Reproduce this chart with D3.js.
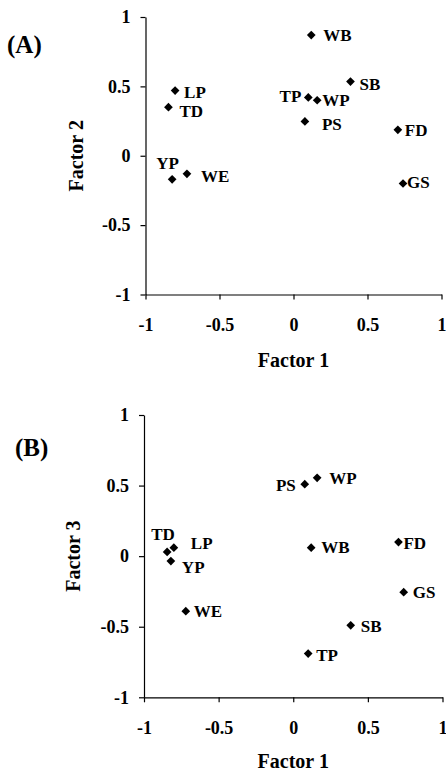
<!DOCTYPE html>
<html>
<head>
<meta charset="utf-8">
<script src="https://cdn.jsdelivr.net/npm/d3@7"></script>
<style>
  html, body { margin: 0; padding: 0; background: #fff; }
  svg text { font-family: "Liberation Serif", "Times New Roman", serif; font-weight: bold; fill: #000; }
</style>
</head>
<body>
<svg id="chart" width="446" height="773"></svg>
<script>
// site codes and factor loadings
const sites = ['LP', 'TD', 'YP', 'WE', 'WB', 'SB', 'TP', 'WP', 'PS', 'FD', 'GS'];
const factor1 = [-0.80, -0.845, -0.82, -0.72, 0.12, 0.385, 0.10, 0.16, 0.077, 0.705, 0.74];
const factor2 = [0.47, 0.35, -0.17, -0.13, 0.87, 0.535, 0.42, 0.40, 0.247, 0.187, -0.20];
const factor3 = [0.06, 0.03, -0.035, -0.39, 0.06, -0.49, -0.69, 0.555, 0.51, 0.10, -0.255];
const tickValues = [-1, -0.5, 0, 0.5, 1];
const tickLabels = ['-1', '-0.5', '0', '0.5', '1'];

// label placement next to each marker (dx, dy, anchor)
const offsetsA = {
  LP: [9, 7], TD: [11, 10], YP: [-16, -10], WE: [14, 8], WB: [12, 6], SB: [9, 8],
  TP: [-7, 5, 'end'], WP: [5, 6], PS: [17, 9], FD: [7, 6], GS: [4, 4]
};
const offsetsB = {
  LP: [17, 1], TD: [-16, -12], YP: [11, 12], WE: [8, 6], WB: [10, 5], SB: [10, 7],
  TP: [8, 7], WP: [12, 6], PS: [-9, 7, 'end'], FD: [5, 7], GS: [9, 6]
};

const svg = d3.select('svg#chart');
const fmt = (d) => tickLabels[tickValues.indexOf(d)];

function drawPanel(opts) {
  const x = d3.scaleLinear().domain([-1, 1]).range([opts.left, opts.right]);
  const y = d3.scaleLinear().domain([-1, 1]).range([opts.bottom, opts.top]);
  const g = svg.append('g');

  const yAxis = g.append('g')
    .attr('transform', `translate(${opts.left},0)`)
    .call(d3.axisLeft(y).tickValues(tickValues).tickFormat(fmt).tickSize(5).tickPadding(10).tickSizeOuter(0));
  const xAxis = g.append('g')
    .attr('transform', `translate(0,${opts.bottom})`)
    .call(d3.axisBottom(x).tickValues(tickValues).tickFormat(fmt).tickSize(5).tickPadding(19).tickSizeOuter(0));

  [xAxis, yAxis].forEach((a) => {
    a.attr('font-family', null).attr('font-size', null);
    a.selectAll('path, line').attr('stroke', '#000').attr('stroke-width', 1.2);
    a.selectAll('text').style('font-size', '18px');
  });

  g.append('text')
    .attr('x', (opts.left + opts.right) / 2)
    .attr('y', opts.xTitleY)
    .attr('text-anchor', 'middle')
    .style('font-size', '20px')
    .text('Factor 1');

  g.append('text')
    .attr('transform', `translate(${opts.yTitleX},${(opts.top + opts.bottom) / 2}) rotate(-90)`)
    .attr('text-anchor', 'middle')
    .style('font-size', '20px')
    .text(opts.yTitle);

  g.append('text')
    .attr('x', opts.tagX)
    .attr('y', opts.tagY)
    .style('font-size', '25px')
    .text(opts.tag);

  const pts = sites.map((s, i) => ({ site: s, fx: factor1[i], fy: opts.yValues[i] }));
  const diamond = d3.symbol().type(d3.symbolSquare).size(38);

  g.selectAll('path.pt')
    .data(pts)
    .enter()
    .append('path')
    .attr('class', 'pt')
    .attr('d', diamond)
    .attr('transform', (d) => `translate(${x(d.fx)},${y(d.fy)}) rotate(45)`)
    .attr('fill', '#000');

  g.selectAll('text.lbl')
    .data(pts)
    .enter()
    .append('text')
    .attr('class', 'lbl')
    .attr('x', (d) => x(d.fx) + opts.offsets[d.site][0])
    .attr('y', (d) => y(d.fy) + opts.offsets[d.site][1])
    .attr('text-anchor', (d) => opts.offsets[d.site][2] || 'start')
    .style('font-size', '17px')
    .text((d) => d.site);
}

drawPanel({
  left: 145.5, right: 441.5, top: 17, bottom: 294.5,
  yValues: factor2, yTitle: 'Factor 2', offsets: offsetsA,
  xTitleY: 367, yTitleX: 83, tag: '(A)', tagX: 7, tagY: 53
});

drawPanel({
  left: 144, right: 442.5, top: 415, bottom: 697.3,
  yValues: factor3, yTitle: 'Factor 3', offsets: offsetsB,
  xTitleY: 768, yTitleX: 80, tag: '(B)', tagX: 15, tagY: 456
});
</script>
</body>
</html>
